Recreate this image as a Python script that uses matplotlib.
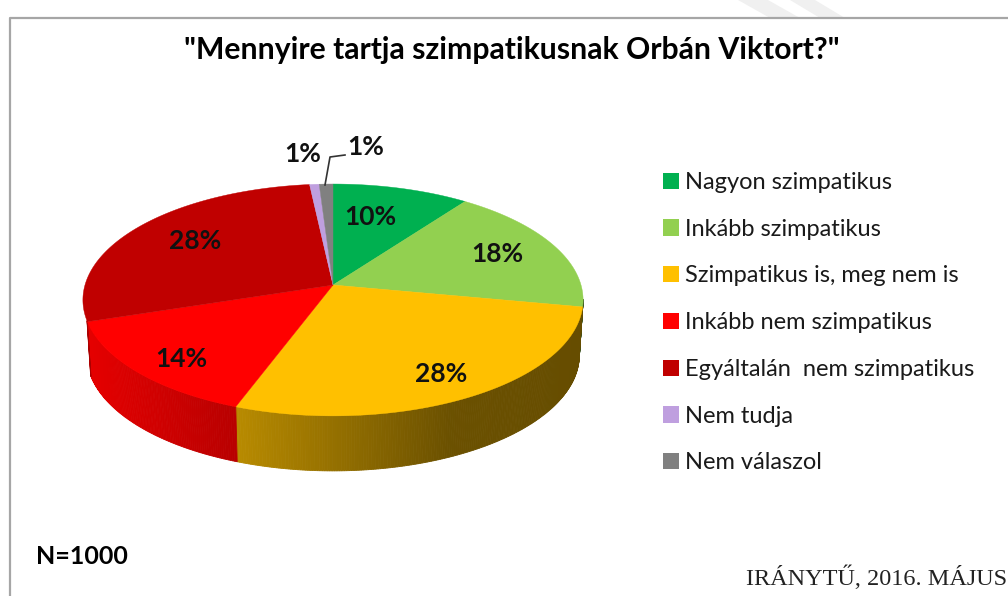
import numpy as np
import matplotlib.pyplot as plt
from matplotlib.patches import Patch

# -------------------------
# Data
# -------------------------
categories = ["Nagyon szimpatikus", "Inkább szimpatikus", "Szimpatikus is, meg nem is",
              "Inkább nem szimpatikus", "Egyáltalán  nem szimpatikus", "Nem tudja", "Nem válaszol"]
values = [10, 18, 27.6, 14.4, 28.3, 0.7, 1.0]   # shares
value_labels = ["10%", "18%", "28%", "14%", "28%", "1%", "1%"]
colors = ["#00B050", "#92D050", "#FFC000", "#FF0000", "#C00000", "#BF9FDF", "#808080"]

title = '"Mennyire tartja szimpatikusnak Orbán Viktort?"'
sample_note = "N=1000"
source_note = "IRÁNYTŰ, 2016. MÁJUS"

# -------------------------
# Layout (pixels of the 1008x596 picture)
# -------------------------
cx, cy = 333, 285
R = 248
persp = 0.129
ry = 114
wall_depth = 55
label_pos = [(370, 217), (497, 254), (441, 374), (181, 359), (195, 241), (303, 154), (366, 147)]

plt.rcParams['font.family'] = ['Lato', 'DejaVu Sans']

fig = plt.figure(figsize=(10.08, 5.96), dpi=100)
ax = fig.add_axes([0, 0, 1, 1])
ax.set_xlim(0, 1008)
ax.set_ylim(596, 0)
ax.axis("off")


def project(theta):
    # theta in radians, clockwise from the top of the pie
    u, v = np.sin(theta), np.cos(theta)
    den = 1 + persp * v
    return cx + R * u / den, cy - ry * v / den


def shade(x):
    # side wall gets darker to the right
    return np.interp(x, [85, 238, 450, 585], [0.90, 0.72, 0.42, 0.40])


# faint watermark stripes at the top edge
ax.fill([738, 768, 800, 770], [0, 0, 18, 18], color="#F0F0F0", lw=0, zorder=0)
ax.fill([790, 815, 845, 820], [0, 0, 18, 18], color="#F0F0F0", lw=0, zorder=0)

# frame
ax.plot([1008, 10, 10], [18, 18, 596], color="#A6A6A6", lw=1.6, zorder=1)

edges = np.radians(np.cumsum([0] + values) * 3.6)

# side wall, only the part facing the viewer
wall_from, wall_to = np.radians(97), np.radians(252.5)
for i in range(len(values)):
    a0, a1 = max(edges[i], wall_from), min(edges[i + 1], wall_to)
    if a1 <= a0:
        continue
    steps = np.linspace(a0, a1, int((a1 - a0) / np.radians(0.5)) + 2)
    base = np.array(plt.matplotlib.colors.to_rgb(colors[i]))
    for t0, t1 in zip(steps[:-1], steps[1:]):
        x0, y0 = project(t0)
        x1, y1 = project(t1)
        xs = [x0, x1, cx + 0.985 * (x1 - cx), cx + 0.985 * (x0 - cx)]
        ys = [y0, y1, y1 + wall_depth, y0 + wall_depth]
        c = base * shade((x0 + x1) / 2)
        ax.fill(xs, ys, color=c, lw=0.6, zorder=2)

# top face
for i in range(len(values)):
    t = np.linspace(edges[i], edges[i + 1], 200)
    x, y = project(t)
    ax.fill(np.r_[cx, x], np.r_[cy, y], color=colors[i], lw=0.3, zorder=3)

# value labels
for (lx, ly), lab in zip(label_pos, value_labels):
    ax.text(lx, ly, lab, ha="center", va="center", fontsize=19, fontweight="bold",
            color="#111111", zorder=5)
ax.plot([325, 330, 345], [185, 157, 155], color="#333333", lw=1.2, zorder=4)

handles = [Patch(facecolor=c, edgecolor="none", label=n) for c, n in zip(colors, categories)]
ax.legend(handles=handles, loc="upper left", bbox_to_anchor=(663 / 1008, 1 - 172 / 596),
          frameon=False, fontsize=17, borderpad=0, borderaxespad=0, handlelength=0.68,
          handleheight=0.68, handletextpad=0.25, labelspacing=1.09, labelcolor="#1A1A1A")

ax.text(512, 50, title, ha="center", va="center", fontsize=21.7, fontweight="bold", color="black")
ax.text(36, 556, sample_note, ha="left", va="center", fontsize=18, fontweight="bold", color="black")
ax.text(1007, 578, source_note, ha="right", va="center", fontsize=17.5,
        family="Liberation Serif", color="#222222")

fig.savefig("out.png", dpi=100)
